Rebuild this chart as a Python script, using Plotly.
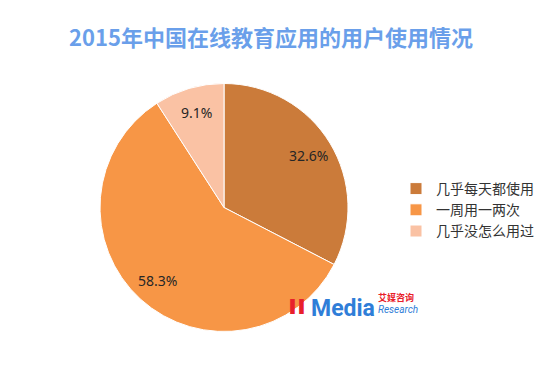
import math
import plotly.graph_objects as go

labels = ["几乎每天都使用", "一周用一两次", "几乎没怎么用过"]
values = [32.6, 58.3, 9.1]
colors = ["#CB7B3A", "#F79646", "#FAC2A4"]

title = "2015年中国在线教育应用的用户使用情况"

W, H = 554, 372
cx, cy, R = 224, 207.5, 124
fig = go.Figure()
fig.add_trace(go.Pie(
    labels=labels, values=values, sort=False, direction="clockwise", rotation=0,
    marker=dict(colors=colors, line=dict(color="white", width=1)),
    textinfo="none",
    domain=dict(x=[(cx - R) / W, (cx + R) / W], y=[1 - (cy + R) / H, 1 - (cy - R) / H]),
    hoverinfo="label+percent",
))

# percentage labels at slice mid-angles
total = sum(values)
cum = 0.0
for v in values:
    mid = (cum + v / 2) / total * 2 * math.pi
    cum += v
    r = 0.8 * R
    px = cx + r * math.sin(mid)
    py = cy - r * math.cos(mid)
    fig.add_annotation(x=px / W, y=1 - py / H, xref="paper", yref="paper", showarrow=False,
                       text=f"{v:.1f}%", xanchor="center", yanchor="middle",
                       font=dict(family="Noto Sans, DejaVu Sans", size=14, color="#262626"))

fig.update_layout(
    width=W, height=H,
    margin=dict(l=0, r=0, t=0, b=0),
    paper_bgcolor="white", plot_bgcolor="white",
    title=dict(text="<b>" + title + "</b>", x=271 / W, xanchor="center", y=1 - 38 / H, yanchor="middle",
               font=dict(family="Noto Sans CJK SC", size=22, color="#6A9FEA")),
    legend=dict(x=396 / W, y=1 - 173 / H, xanchor="left", yanchor="top",
                font=dict(family="Noto Sans CJK SC", size=14, color="#333333"),
                itemwidth=30, tracegroupgap=4, bgcolor="rgba(0,0,0,0)"),
    showlegend=True,
)

# watermark logo as text
fig.add_annotation(x=297 / W, y=1 - 305 / H, xref="paper", yref="paper", showarrow=False,
                   text="<b>ıı</b>", font=dict(family="DejaVu Sans", size=26, color="#E8202A"),
                   xanchor="center", yanchor="middle")
fig.add_annotation(x=309 / W, y=1 - 308 / H, xref="paper", yref="paper", showarrow=False,
                   text="<b>Media</b>", font=dict(family="Roboto", size=23, color="#2F7ED8"),
                   xanchor="left", yanchor="middle")
fig.add_annotation(x=376 / W, y=1 - 297 / H, xref="paper", yref="paper", showarrow=False,
                   text="<b>艾媒咨询</b>", font=dict(family="Noto Sans CJK SC", size=9, color="#E8202A"),
                   xanchor="left", yanchor="middle")
fig.add_annotation(x=376 / W, y=1 - 309 / H, xref="paper", yref="paper", showarrow=False,
                   text="<i>Research</i>", font=dict(family="Roboto", size=10, color="#2F7ED8"),
                   xanchor="left", yanchor="middle")

fig.write_html("out.html", config={"displayModeBar": False},
               post_script="document.body.style.margin='0';")
